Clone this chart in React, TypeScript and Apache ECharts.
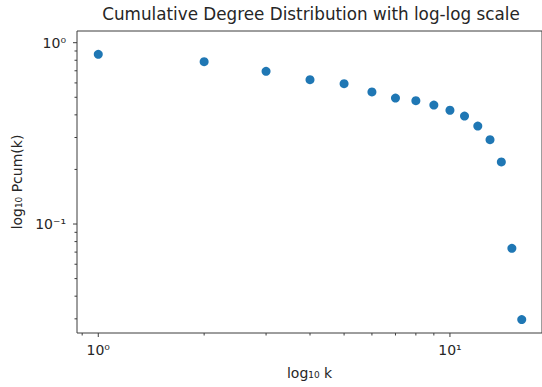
import React, { useEffect, useRef } from "react";
import * as echarts from "echarts";

const TITLE = "Cumulative Degree Distribution with log-log scale";
const X_NAME = "log₁₀ k";
const Y_NAME = "log₁₀ Pcum(k)";

const degreeK = [1, 2, 3, 4, 5, 6, 7, 8, 9, 10, 11, 12, 13, 14, 15, 16];
const cumProb = [
  0.863, 0.786, 0.695, 0.625, 0.594, 0.535, 0.495, 0.479, 0.453, 0.424, 0.394,
  0.347, 0.292, 0.22, 0.0734, 0.0297,
];

const X_MIN = 0.87;
const X_MAX = 18.27;
const Y_MIN = 0.02506;
const Y_MAX = 1.16;

const xMajorTicks = [1, 10];
const xMinorTicks = [0.9, 2, 3, 4, 5, 6, 7, 8, 9];
const yMajorTicks = [0.1, 1];
const yMinorTicks = [
  0.03, 0.04, 0.05, 0.06, 0.07, 0.08, 0.09, 0.2, 0.3, 0.4, 0.5, 0.6, 0.7, 0.8,
  0.9,
];

const FONT = "'DejaVu Sans', sans-serif";
const TEXT = "#262626";
const SPINE = "#3c3c3c";
const DOT = "#1f77b4";

const SUP: Record<string, string> = {
  "0": "⁰", "1": "¹", "2": "²", "3": "³", "4": "⁴", "5": "⁵",
  "6": "⁶", "7": "⁷", "8": "⁸", "9": "⁹", "-": "⁻",
};

function powLabel(v: number): string {
  const e = Math.log10(v);
  const r = Math.round(e);
  if (Math.abs(e - r) > 1e-6) return "";
  return "10" + String(r).split("").map((c) => SUP[c] || c).join("");
}

function tickSeries(values: number[], axis: "x" | "y", len: number) {
  return {
    type: "custom",
    silent: true,
    clip: false,
    data: values.map((v) => (axis === "x" ? [v, Y_MIN] : [X_MIN, v])),
    renderItem: (params: any, api: any) => {
      const cs = params.coordSys;
      if (axis === "x") {
        const p = api.coord([api.value(0), Y_MIN]);
        const yb = cs.y + cs.height;
        return {
          type: "line",
          shape: { x1: p[0], y1: yb, x2: p[0], y2: yb + len },
          style: { stroke: SPINE, lineWidth: 1 },
        };
      }
      const p = api.coord([X_MIN, api.value(1)]);
      return {
        type: "line",
        shape: { x1: cs.x, y1: p[1], x2: cs.x - len, y2: p[1] },
        style: { stroke: SPINE, lineWidth: 1 },
      };
    },
  };
}

export default function App() {
  const ref = useRef<HTMLDivElement>(null);
  useEffect(() => {
    if (!ref.current) return;
    const chart = echarts.init(ref.current, undefined, { renderer: "svg" });
    chart.setOption({
      animation: false,
      backgroundColor: "#ffffff",
      grid: {
        left: 77,
        right: -3,
        top: 31,
        bottom: 54,
        show: true,
        borderColor: SPINE,
        borderWidth: 1,
        backgroundColor: "transparent",
      },
      graphic: [
        {
          type: "text",
          x: 311,
          y: 5,
          style: {
            text: TITLE,
            fontFamily: FONT,
            fontSize: 16.8,
            fill: TEXT,
            align: "center",
            verticalAlign: "top",
          },
        },
      ],
      xAxis: {
        type: "log",
        logBase: 10,
        min: X_MIN,
        max: X_MAX,
        axisLine: { show: false },
        axisTick: { show: false },
        splitLine: { show: false },
        minorTick: { show: false },
        axisLabel: {
          formatter: (v: number) => powLabel(v),
          fontFamily: FONT,
          fontSize: 14,
          color: TEXT,
          margin: 10,
          showMinLabel: false,
          showMaxLabel: false,
        },
        name: X_NAME,
        nameLocation: "middle",
        nameGap: 33,
        nameTextStyle: { fontFamily: FONT, fontSize: 14, color: TEXT },
      },
      yAxis: {
        type: "log",
        logBase: 10,
        min: Y_MIN,
        max: Y_MAX,
        axisLine: { show: false },
        axisTick: { show: false },
        splitLine: { show: false },
        minorTick: { show: false },
        axisLabel: {
          formatter: (v: number) => powLabel(v),
          fontFamily: FONT,
          fontSize: 14,
          color: TEXT,
          margin: 11,
          showMinLabel: false,
          showMaxLabel: false,
        },
        name: Y_NAME,
        nameLocation: "middle",
        nameGap: 49,
        nameTextStyle: { fontFamily: FONT, fontSize: 14, color: TEXT },
      },
      series: [
        tickSeries(xMajorTicks, "x", 4),
        tickSeries(xMinorTicks, "x", 2.5),
        tickSeries(yMajorTicks, "y", 4),
        tickSeries(yMinorTicks, "y", 2.5),
        {
          type: "scatter",
          data: degreeK.map((k, i) => [k, cumProb[i]]),
          symbol: "circle",
          symbolSize: 9,
          itemStyle: { color: DOT, opacity: 1 },
          silent: true,
        },
      ],
    });
    return () => chart.dispose();
  }, []);
  return (
    <div
      ref={ref}
      style={{ position: "fixed", left: 0, top: 0, width: 542, height: 387 }}
    />
  );
}
